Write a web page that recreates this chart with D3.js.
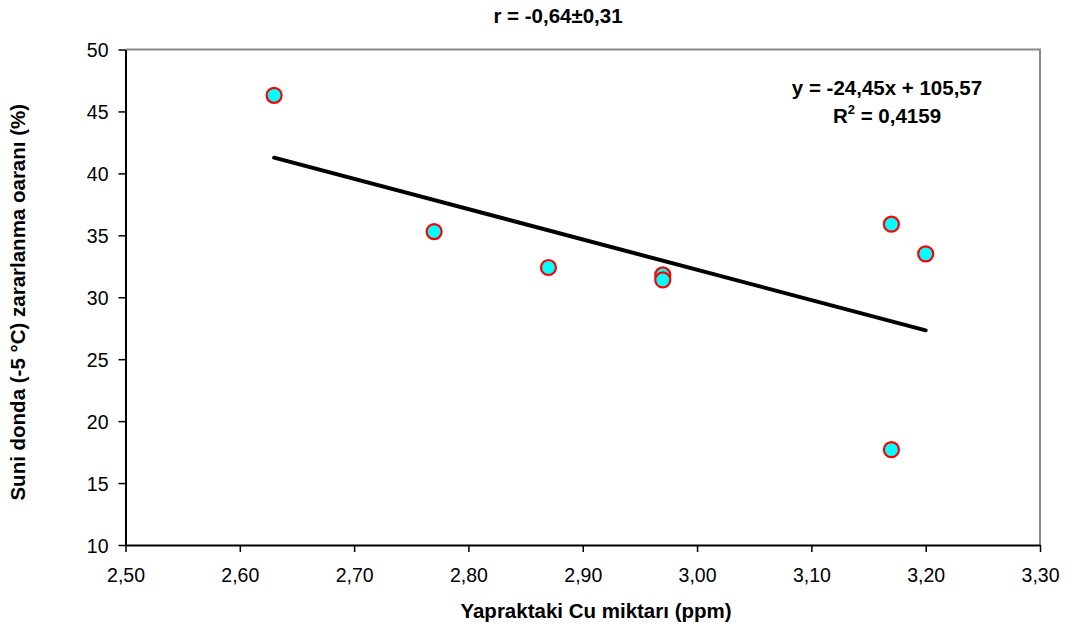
<!DOCTYPE html>
<html>
<head>
<meta charset="utf-8">
<script src="https://cdn.jsdelivr.net/npm/d3@7"></script>
<style>
  body { margin: 0; background: #fff; }
  svg { font-family: "Liberation Sans", Arial, sans-serif; }
</style>
</head>
<body>
<svg id="chart"></svg>
<script>
// veriler
const cuValues = [2.63, 2.77, 2.87, 2.97, 2.97, 3.17, 3.20, 3.17];
const damageValues = [46.3, 35.3, 32.4, 31.8, 31.4, 35.9, 33.5, 17.7];
const xTicks = [2.5, 2.6, 2.7, 2.8, 2.9, 3.0, 3.1, 3.2, 3.3];
const yTicks = [10, 15, 20, 25, 30, 35, 40, 45, 50];
const slope = -24.45, intercept = 105.57;

const W = 1072, H = 630;
const margin = { top: 49.5, right: 32, bottom: 85, left: 125.5 };
const tickFont = "19.5px", labelFont = "20.5px";

const svg = d3.select("#chart").attr("width", W).attr("height", H);

const x = d3.scaleLinear().domain([2.5, 3.3]).range([margin.left, W - margin.right]);
const y = d3.scaleLinear().domain([10, 50]).range([H - margin.bottom, margin.top]);

const fmt = d3.format(".2f");

// çerçeve (üst ve sağ gri)
svg.append("path")
    .attr("d", `M${x(2.5)},${y(50)}H${x(3.3)}V${y(10)}`)
    .attr("fill", "none")
    .attr("stroke", "#888")
    .attr("stroke-width", 2);

// X ekseni
svg.append("g")
    .attr("transform", `translate(0,${y(10)})`)
    .call(d3.axisBottom(x).tickValues(xTicks).tickSize(7).tickSizeOuter(0)
        .tickFormat(d => fmt(d).replace(".", ",")))
    .call(g => g.select(".domain").attr("stroke-width", 2))
    .call(g => g.selectAll(".tick line").attr("stroke-width", 1.5))
    .call(g => g.selectAll(".tick text").attr("y", 37).attr("dy", 0)
        .style("font-size", tickFont).attr("fill", "#000"));

// Y ekseni
svg.append("g")
    .attr("transform", `translate(${x(2.5)},0)`)
    .call(d3.axisLeft(y).tickValues(yTicks).tickSize(7).tickSizeOuter(0))
    .call(g => g.select(".domain").attr("stroke-width", 2))
    .call(g => g.selectAll(".tick line").attr("stroke-width", 1.5))
    .call(g => g.selectAll(".tick text").attr("x", -17).attr("dy", "0.36em")
        .style("font-size", tickFont).attr("fill", "#000"));

// trend çizgisi
const xMin = d3.min(cuValues), xMax = d3.max(cuValues);
svg.append("line")
    .attr("x1", x(xMin)).attr("y1", y(slope * xMin + intercept))
    .attr("x2", x(xMax)).attr("y2", y(slope * xMax + intercept))
    .attr("stroke", "#000")
    .attr("stroke-width", 4)
    .attr("stroke-linecap", "round");

// noktalar
svg.append("g")
    .selectAll("circle")
    .data(cuValues.map((d, i) => ({ cu: d, v: damageValues[i] })))
    .enter()
    .append("circle")
    .attr("cx", d => x(d.cu))
    .attr("cy", d => y(d.v))
    .attr("r", 7.5)
    .attr("fill", "#00ffff")
    .attr("stroke", "#ff0000")
    .attr("stroke-width", 2.2);

// başlık
svg.append("text")
    .attr("x", 558).attr("y", 23)
    .attr("text-anchor", "middle")
    .style("font-size", labelFont).style("font-weight", "bold")
    .text("r = -0,64±0,31");

// denklem
svg.append("text")
    .attr("x", 887).attr("y", 95)
    .attr("text-anchor", "middle")
    .style("font-size", labelFont).style("font-weight", "bold")
    .text("y = -24,45x + 105,57");

const r2 = svg.append("text")
    .attr("x", 887).attr("y", 123)
    .attr("text-anchor", "middle")
    .style("font-size", labelFont).style("font-weight", "bold");
r2.append("tspan").text("R");
r2.append("tspan").attr("dy", -9).style("font-size", "13px").text("2");
r2.append("tspan").attr("dy", 9).text(" = 0,4159");

// eksen başlıkları
svg.append("text")
    .attr("x", 596).attr("y", 618)
    .attr("text-anchor", "middle")
    .style("font-size", labelFont).style("font-weight", "bold")
    .text("Yapraktaki Cu miktarı (ppm)");

svg.append("text")
    .attr("transform", `translate(25,${(y(10) + y(50)) / 2 + 5}) rotate(-90)`)
    .attr("text-anchor", "middle")
    .style("font-size", labelFont).style("font-weight", "bold")
    .text("Suni donda (-5 °C) zararlanma oaranı (%)");
</script>
</body>
</html>
